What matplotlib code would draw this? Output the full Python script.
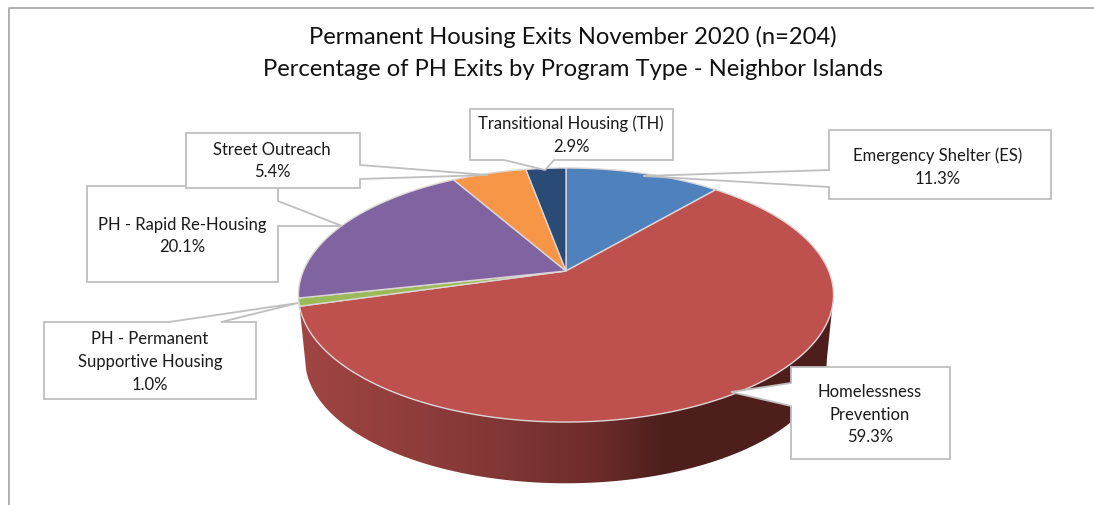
"""Perspective pie of permanent housing exits by program type."""

import matplotlib
matplotlib.use("Agg")
import matplotlib.pyplot as plt
import numpy as np
from matplotlib.colors import to_rgb
from matplotlib.patches import Polygon

TITLE = "Permanent Housing Exits November 2020 (n=204)\nPercentage of PH Exits by Program Type - Neighbor Islands"

categories = [
    "Emergency Shelter (ES)",
    "Homelessness\nPrevention",
    "PH - Permanent\nSupportive Housing",
    "PH - Rapid Re-Housing",
    "Street Outreach",
    "Transitional Housing (TH)",
]
shares = [11.3, 59.3, 1.0, 20.1, 5.4, 2.9]
colors = ["#4F81BD", "#BE504E", "#9BBB59", "#8064A2", "#F79646", "#2A4B75"]

# callout layout in pixels: box (left, top, right, bottom), pointer (start, tip, end), text centre
boxes = [
    (829, 131, 1051, 200),
    (791, 368, 950, 460),
    (44, 323, 256, 400),
    (87, 187, 278, 283),
    (186, 134, 360, 189),
    (470, 110, 673, 161),
]
pointers = [
    [(829, 171), (643, 177), (829, 188)],
    [(791, 384), (731, 393), (791, 407)],
    [(169, 323), (298, 304), (221, 323)],
    [(278, 202), (342, 227), (278, 227)],
    [(360, 166), (488, 176), (360, 180)],
    [(504, 161), (545, 171), (554, 161)],
]
text_centres = [(938, 167), (870, 415), (150, 362), (182, 236), (272, 161), (571, 135)]

# pie projection: circle in a tilted plane seen in perspective
CX, CY = 566, 272
PERSP = 0.189
AX, BY = 262.7, 122.5
WALL_SCALE, WALL_DROP = 0.975, 65

WALL_STOPS_X = [300, 500, 600, 660, 840]
WALL_STOPS_C = ["#A04543", "#813735", "#6C2B29", "#4E1F1D", "#4D1E1C"]


def rim(t, scale=1.0, drop=0.0):
    x, y = np.cos(t), np.sin(t)
    den = 1 + PERSP * y
    return CX + scale * AX * x / den, CY + drop - scale * BY * y / den


def main():
    plt.rcParams["font.family"] = ["Lato", "DejaVu Sans"]
    fig = plt.figure(figsize=(10.94, 5.06), dpi=100)
    ax = fig.add_axes([0, 0, 1, 1])

    # chart frame, cut off at right and bottom
    ax.plot([8.5, 8.5, 1094], [506, 9, 9], color="#B0B0B0", lw=1.4, zorder=1)

    fracs = np.cumsum([0] + shares) / sum(shares)
    angles = np.pi / 2 - 2 * np.pi * fracs

    # side wall of the largest slice: horizontal gradient clipped to the wall outline
    wall_t = np.linspace(angles[2], -np.arcsin(PERSP), 300)
    tx, ty = rim(wall_t)
    bx, by = rim(wall_t, WALL_SCALE, WALL_DROP)
    wall = Polygon(np.c_[np.r_[tx, bx[::-1]], np.r_[ty, by[::-1]]], closed=True, transform=ax.transData, fc="none", ec="none")
    ax.add_patch(wall)
    grad_x = np.linspace(296, 840, 544)
    stops = np.array([to_rgb(c) for c in WALL_STOPS_C])
    grad = np.stack([np.interp(grad_x, WALL_STOPS_X, stops[:, i]) for i in range(3)], axis=-1)[None, :, :]
    img = ax.imshow(grad, extent=(296, 840, 500, 290), aspect="auto", interpolation="bilinear", zorder=2)
    img.set_clip_path(wall)

    # top face
    for i, colour in enumerate(colors):
        t = np.linspace(angles[i], angles[i + 1], 200)
        x, y = rim(t)
        ax.fill(np.r_[CX, x], np.r_[CY, y], facecolor=colour, edgecolor="#DDD6D6", lw=1.0, zorder=3)

    # callouts
    for i in range(len(categories)):
        left, top, right, bottom = boxes[i]
        p0, tip, p1 = pointers[i]
        corners = [(left, top), (right, top), (right, bottom), (left, bottom)]
        # walk the box outline and break into it where the pointer sits
        if p0[0] == left:
            outline = [corners[0], p0, tip, p1, corners[3], corners[2], corners[1]]
        elif p0[0] == right:
            outline = [corners[0], corners[1], p0, tip, p1, corners[2], corners[3]]
        elif p0[1] == top:
            outline = [corners[0], p0, tip, p1, corners[1], corners[2], corners[3]]
        else:
            outline = [corners[0], corners[1], corners[2], p1, tip, p0, corners[3]]
        xs, ys = zip(*outline)
        ax.fill(xs, ys, facecolor="white", edgecolor="#BFBFBF", lw=1.3, joinstyle="miter", zorder=4 + i * 0.1)
        ax.text(
            text_centres[i][0],
            text_centres[i][1],
            f"{categories[i]}\n{shares[i]:.1f}%",
            ha="center",
            va="center",
            fontsize=12.0,
            linespacing=1.5,
            color="#1A1A1A",
            zorder=5,
        )

    ax.text(573, 53, TITLE, ha="center", va="center", fontsize=17.1, linespacing=1.62, color="#111111", zorder=5)

    ax.set_xlim(0, 1094)
    ax.set_ylim(506, 0)
    ax.axis("off")

    fig.savefig("out.png", dpi=100)
    plt.close(fig)


if __name__ == "__main__":
    main()
